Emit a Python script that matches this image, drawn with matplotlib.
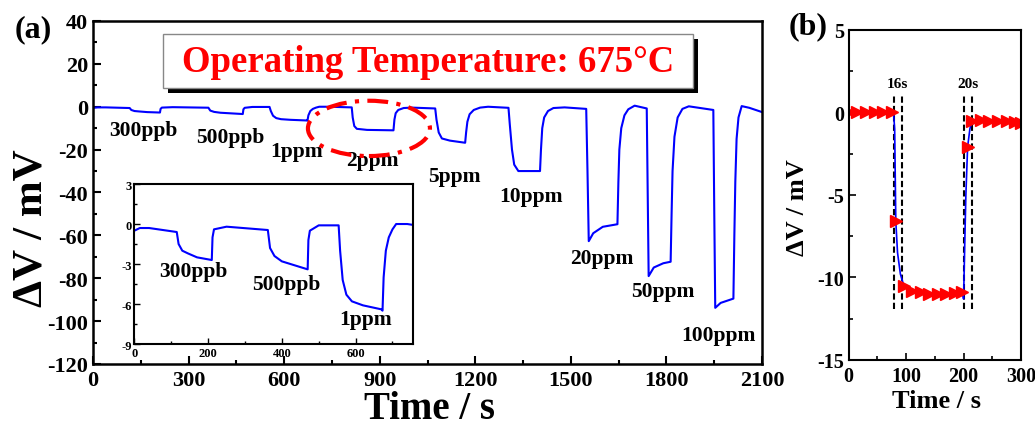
import matplotlib
matplotlib.use("Agg")
import matplotlib.pyplot as plt
from matplotlib.patches import Ellipse, Rectangle
from matplotlib.ticker import MultipleLocator

plt.rcParams['font.family'] = ['Liberation Serif', 'DejaVu Serif']
plt.rcParams['font.weight'] = 'bold'
plt.rcParams['axes.labelweight'] = 'bold'
plt.rcParams['axes.unicode_minus'] = False

# (a) response at 675 C, time in s, dV in mV
time_a = [0, 15, 40, 115, 120, 130, 145, 170, 210, 212, 216, 250, 362, 368, 380, 400, 470,
          472, 476, 500, 554, 558, 565, 575, 590, 620, 670, 673, 676, 682, 690, 700, 710, 740,
          812, 815, 820, 828, 860, 943, 946, 950, 958, 975, 1000, 1074, 1078, 1085, 1095, 1120,
          1168, 1171, 1175, 1182, 1195, 1215, 1240, 1304, 1308, 1315, 1322, 1335, 1403, 1406,
          1410, 1416, 1428, 1445, 1480, 1548, 1552, 1556, 1570, 1600, 1646, 1649, 1652, 1658,
          1668, 1680, 1700, 1738, 1741, 1744, 1760, 1790, 1813, 1816, 1819, 1825, 1835, 1850,
          1870, 1947, 1950, 1953, 1970, 2010, 2013, 2016, 2020, 2026, 2036, 2060, 2100]
dv_a = [-0.5, -0.3, -0.3, -0.6, -1.5, -2.0, -2.2, -2.5, -2.7, -1.0, -0.4, -0.2, -0.45, -1.8,
        -2.4, -2.8, -3.4, -1.2, -0.5, -0.1, -0.1, -2.0, -4.2, -5.3, -5.8, -6.1, -6.4, -6.5,
        -4.0, -2.0, -1.0, -0.4, 0.0, 0.0, -0.3, -5.0, -9.0, -10.3, -10.8, -11.0, -6.0, -3.0,
        -1.5, -0.6, -0.4, -0.8, -6.0, -12.0, -14.8, -15.8, -16.8, -12.0, -7.0, -3.5, -1.5,
        -0.4, 0.0, -0.5, -8.0, -20.0, -27.0, -30.0, -30.0, -20.0, -10.0, -5.0, -2.0, -0.6,
        -0.3, -1.0, -30.0, -62.7, -59.0, -56.0, -54.8, -35.0, -20.0, -10.0, -4.0, -1.2, 0.5,
        -0.8, -40.0, -79.0, -75.0, -73.0, -72.3, -50.0, -30.0, -14.0, -5.0, -1.0, 0.2, -1.5,
        -50.0, -93.8, -91.5, -89.5, -60.0, -35.0, -15.0, -5.0, 0.3, -0.5, -2.5]

conc_labels = ['300ppb', '500ppb', '1ppm', '2ppm', '5ppm', '10ppm', '20ppm', '50ppm', '100ppm']
label_t = [157, 430, 640, 876, 1133, 1375, 1598, 1787, 1962]
label_v = [-10.8, -14.1, -20.6, -24.8, -32.3, -41.6, -70.6, -86.0, -106.5]

inset_labels = ['300ppb', '500ppb', '1ppm']
inset_t = [159, 412, 627]
inset_v = [-3.5, -4.5, -7.1]

# (b) single 2 ppm cycle
time_b = [0, 15, 30, 45, 60, 78, 80, 82, 85, 90, 96, 110, 125, 140, 155, 170, 185, 198, 200,
          202, 204, 207, 211, 215, 230, 245, 260, 275, 290, 300]
dv_b = [0, 0, 0, 0, 0, 0, -1.0, -6.6, -8.5, -9.8, -10.5, -10.8, -10.9, -11.0, -11.0, -11.0,
        -10.95, -10.9, -11.3, -8.0, -5.0, -2.1, -1.0, -0.5, -0.45, -0.5, -0.5, -0.55, -0.6,
        -0.65]
mark_t = [0, 15, 30, 45, 60, 75, 82, 96, 110, 125, 140, 155, 170, 185, 198, 207, 215, 230,
          245, 260, 275, 290, 300]
mark_v = [0, 0, 0, 0, 0, 0, -6.6, -10.5, -10.8, -10.9, -11.0, -11.0, -11.0, -10.95, -10.9,
          -2.1, -0.5, -0.45, -0.5, -0.5, -0.55, -0.6, -0.65]
resp_lines = [79, 92, 200, 215]
time_tags = ['16s', '20s']
tag_t = [85, 207]

fig = plt.figure(figsize=(10.35, 4.27), dpi=100)

ax = fig.add_axes([0.0899, 0.1452, 0.6464, 0.8033])
ax.plot(time_a, dv_a, color='#0000ff', lw=1.5)
ax.set_xlim(0, 2100)
ax.set_ylim(-120, 40)
ax.xaxis.set_major_locator(MultipleLocator(300))
ax.xaxis.set_minor_locator(MultipleLocator(150))
ax.yaxis.set_major_locator(MultipleLocator(20))
ax.yaxis.set_minor_locator(MultipleLocator(10))
ax.tick_params(which='both', direction='in', top=False, right=False, labelsize=16, width=1.5)
ax.tick_params(axis='x', pad=4)
ax.tick_params(which='major', length=6)
ax.tick_params(which='minor', length=3)
for s in ax.spines.values():
    s.set_linewidth(1.8)
for txt, t, v in zip(conc_labels, label_t, label_v):
    ax.text(t, v, txt, ha='center', va='center', fontsize=15.5, fontweight='bold')

# temperature box with shadow
dx, dy = 5 / 669, 5 / 343
ax.add_patch(Rectangle((0.1046 + dx, 0.8047 - dy), 0.7923, 0.1573, transform=ax.transAxes,
                       facecolor='black', edgecolor='none', zorder=4))
ax.add_patch(Rectangle((0.1046, 0.8047), 0.7923, 0.1573, transform=ax.transAxes,
                       facecolor='white', edgecolor='#888888', lw=1, zorder=5))
ax.text(0.5007, 0.883, 'Operating Temperature: 675°C', transform=ax.transAxes, ha='center',
        va='center', color='#ff0000', fontsize=26.5, fontweight='bold', zorder=6)

ax.add_patch(Ellipse((866, -10.1), 383, 25.8, fill=False, edgecolor='#ff0000', lw=3,
                     linestyle=(0, (5, 2, 1, 2)), zorder=3))

fig.text(31 / 1035, 1 - 228 / 427, 'ΔV / mV', rotation=90, ha='center', va='center',
         fontsize=31, fontweight='bold')
fig.text(430 / 1035, 1 - 410 / 427, 'Time / s', ha='center', va='center', fontsize=28,
         fontweight='bold')
fig.text(33 / 1035, 1 - 30 / 427, '(a)', ha='center', va='center', fontsize=23,
         fontweight='bold')

# inset
ins = fig.add_axes([0.1298, 0.192, 0.269, 0.3747])
ins.plot(time_a, dv_a, color='#0000ff', lw=1.5)
ins.set_xlim(0, 755)
ins.set_ylim(-9, 3)
ins.xaxis.set_major_locator(MultipleLocator(200))
ins.xaxis.set_minor_locator(MultipleLocator(100))
ins.yaxis.set_major_locator(MultipleLocator(3))
ins.yaxis.set_minor_locator(MultipleLocator(1.5))
ins.tick_params(which='both', direction='in', top=False, right=False, labelsize=9, width=1,
                pad=2)
ins.tick_params(which='major', length=4)
ins.tick_params(which='minor', length=2)
for s in ins.spines.values():
    s.set_linewidth(1.5)
for txt, t, v in zip(inset_labels, inset_t, inset_v):
    ins.text(t, v, txt, ha='center', va='center', fontsize=15.5, fontweight='bold')

# panel (b)
axb = fig.add_axes([0.82, 0.1546, 0.1665, 0.7735])
for xv in resp_lines:
    axb.plot([xv, xv], [-11.9, 1.0], color='black', lw=1.5, linestyle=(0, (3, 1.5)))
axb.plot(time_b, dv_b, color='#0000ff', lw=1.2)
axb.plot(mark_t, mark_v, linestyle='none', marker='>', color='#ff0000', ms=8)
for txt, t in zip(time_tags, tag_t):
    axb.text(t, 1.75, txt, ha='center', va='center', fontsize=11, fontweight='bold')
axb.set_xlim(0, 300)
axb.set_ylim(-15, 5)
axb.xaxis.set_major_locator(MultipleLocator(100))
axb.xaxis.set_minor_locator(MultipleLocator(50))
axb.yaxis.set_major_locator(MultipleLocator(5))
axb.yaxis.set_minor_locator(MultipleLocator(2.5))
axb.tick_params(which='both', direction='in', top=False, right=False, labelsize=14.5, width=1.2)
axb.tick_params(axis='x', pad=4)
axb.tick_params(which='major', length=5)
axb.tick_params(which='minor', length=3)
for s in axb.spines.values():
    s.set_linewidth(1.5)
fig.text(797 / 1035, 1 - 208 / 427, 'ΔV / mV', rotation=90, ha='center', va='center',
         fontsize=19, fontweight='bold')
fig.text(936 / 1035, 1 - 402 / 427, 'Time / s', ha='center', va='center', fontsize=19,
         fontweight='bold')
fig.text(808 / 1035, 1 - 27 / 427, '(b)', ha='center', va='center', fontsize=23,
         fontweight='bold')

fig.savefig('out.png', dpi=100)
